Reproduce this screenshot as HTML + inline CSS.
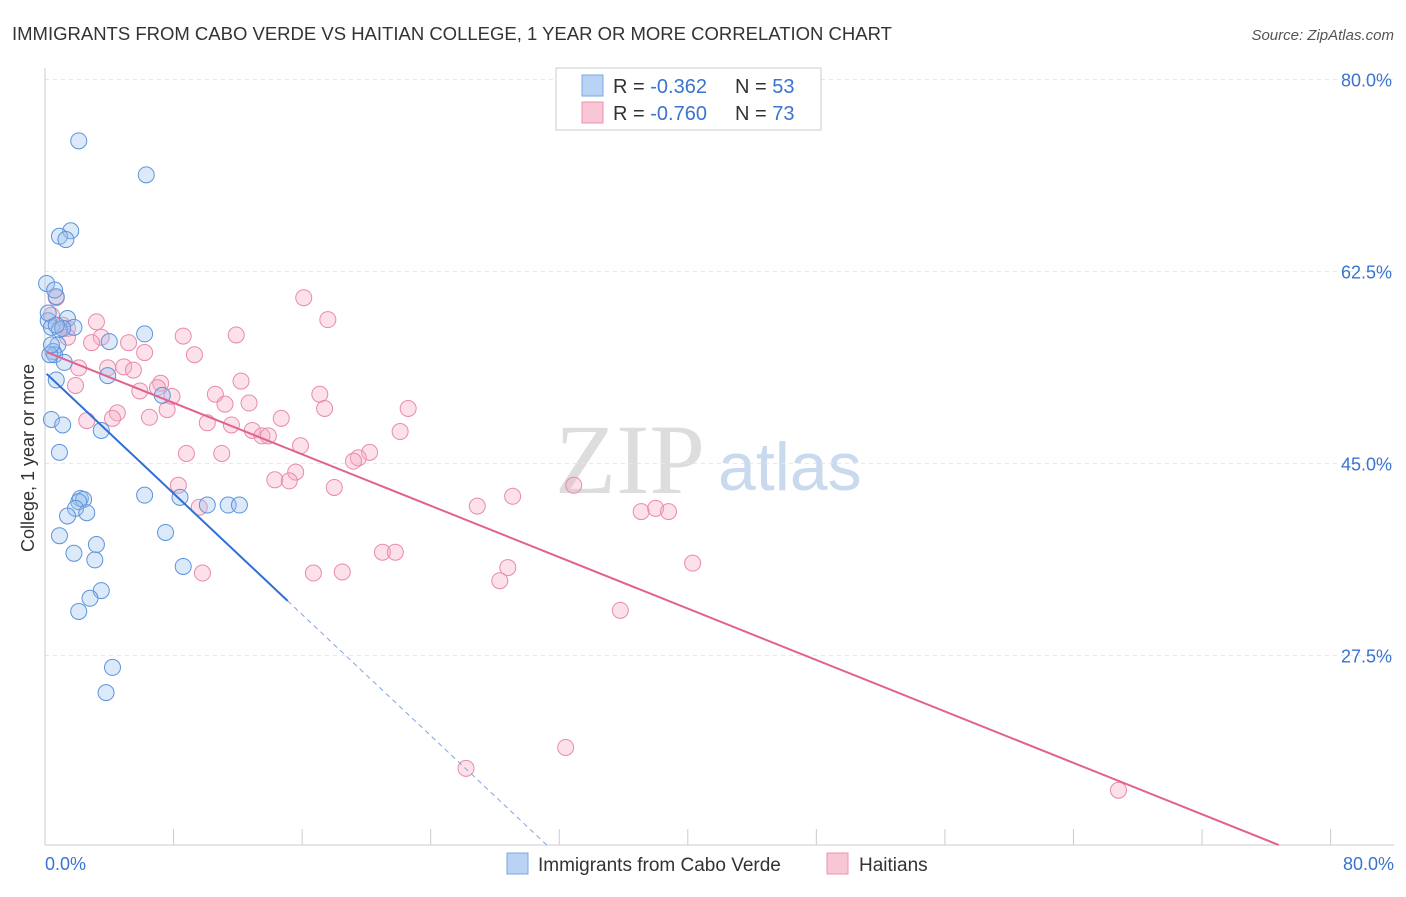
<!DOCTYPE html>
<html><head><meta charset="utf-8"><style>
body{margin:0;background:#fff;font-family:"Liberation Sans",sans-serif;}
svg text{font-family:"Liberation Sans",sans-serif;}
</style></head><body>
<svg id="c" width="1406" height="892" xmlns="http://www.w3.org/2000/svg">
<text x="12" y="40" font-size="18.5" fill="#333">IMMIGRANTS FROM CABO VERDE VS HAITIAN COLLEGE, 1 YEAR OR MORE CORRELATION CHART</text>
<text x="1394" y="40" font-size="15" fill="#555" font-style="italic" text-anchor="end">Source: ZipAtlas.com</text>
<text x="34" y="458" font-size="18" fill="#333" text-anchor="middle" transform="rotate(-90 34 458)">College, 1 year or more</text>
<text x="555" y="493" font-size="100" fill="#ddd" style="font-family:'Liberation Serif',serif">ZIP</text>
<text x="718" y="490" font-size="68" fill="#c9d9ee">atlas</text>
<g id="grid"></g><g id="marks"></g>
<g>
<rect x="556" y="68" width="265" height="62" fill="#fff" stroke="#ccc"/>
<rect x="582" y="75" width="21" height="21" fill="#b9d3f5" stroke="#7aa7e6"/>
<rect x="582" y="102" width="21" height="21" fill="#f9c6d6" stroke="#ee92b2"/>
<text x="613" y="93" font-size="20" fill="#333">R = <tspan fill="#3a73d0">-0.362</tspan><tspan x="735">N = </tspan><tspan fill="#3a73d0">53</tspan></text>
<text x="613" y="120" font-size="20" fill="#333">R = <tspan fill="#3a73d0">-0.760</tspan><tspan x="735">N = </tspan><tspan fill="#3a73d0">73</tspan></text>
</g>
<g>
<rect x="507" y="853" width="21" height="21" fill="#b9d3f5" stroke="#7aa7e6"/>
<text x="538" y="871" font-size="19" fill="#333">Immigrants from Cabo Verde</text>
<rect x="827" y="853" width="21" height="21" fill="#f9c6d6" stroke="#ee92b2"/>
<text x="859" y="871" font-size="19" fill="#333">Haitians</text>
</g>
<text x="45" y="870" font-size="18" fill="#3a73d0">0.0%</text>
<text x="1394" y="870" font-size="18" fill="#3a73d0" text-anchor="end">80.0%</text>
</svg>
<script>
const blueX=[2.1,6.3,1.6,0.9,1.3,0.1,0.7,1.4,0.2,1.8,0.4,0.9,6.2,4.0,0.8,0.5,0.6,1.2,3.9,0.7,7.3,0.4,1.1,3.5,0.9,6.2,8.4,2.2,2.4,2.1,1.9,2.6,1.4,10.1,11.4,12.1,7.5,0.9,3.2,1.8,3.1,8.6,3.5,2.8,2.1,4.2,3.8,0.3,0.6,0.2,0.4,1.1,0.7];
const blueY=[74.4,71.3,66.2,65.7,65.4,61.4,60.2,58.2,58.0,57.4,57.4,57.2,56.8,56.1,55.8,55.2,54.9,54.2,53.0,52.6,51.2,49.0,48.5,48.0,46.0,42.1,41.9,41.8,41.7,41.5,40.9,40.5,40.2,41.2,41.2,41.2,38.7,38.4,37.6,36.8,36.2,35.6,33.4,32.7,31.5,26.4,24.1,54.9,60.8,58.7,55.8,57.3,57.6];
const pinkX=[0.7,16.1,17.6,3.2,1.1,1.4,8.6,11.9,3.5,2.9,5.2,1.4,6.2,9.3,2.1,3.9,4.9,5.5,12.2,1.9,7.2,7.0,5.9,7.9,10.6,17.1,12.7,11.2,7.6,4.5,17.4,22.6,4.2,6.5,2.6,14.7,10.1,11.6,12.9,13.5,13.9,22.1,15.9,20.2,19.5,8.8,11.0,19.2,15.6,14.3,15.2,8.3,18.0,32.9,29.1,26.9,9.6,37.1,38.0,38.8,21.0,21.8,16.7,18.5,9.8,28.8,40.3,28.3,35.8,32.4,26.2,66.8,0.4];
const pinkY=[60.1,60.1,58.1,57.9,57.6,57.3,56.6,56.7,56.5,56.0,56.0,56.5,55.1,54.9,53.7,53.7,53.8,53.5,52.5,52.1,52.3,51.9,51.6,51.1,51.3,51.3,50.5,50.4,49.9,49.6,50.0,50.0,49.1,49.2,48.9,49.1,48.7,48.5,48.0,47.5,47.5,47.9,46.6,46.0,45.5,45.9,45.9,45.2,44.2,43.5,43.4,43.0,42.8,43.0,42.0,41.1,41.0,40.6,40.9,40.6,36.9,36.9,35.0,35.1,35.0,35.5,35.9,34.3,31.6,19.1,17.2,15.2,58.5];
const yTicks=[80,62.5,45,27.5];
const xTicks=[0,8,16,24,32,40,48,56,64,72,80];
const blueTrend=[53.3,-1.38];
const pinkTrend=[55.2,-0.586];
const NS="http://www.w3.org/2000/svg";
const sx=v=>45+v*16.07, sy=v=>957-v*10.97;
const grid=document.getElementById('grid'), marks=document.getElementById('marks');
function mk(tag,attrs,parent){const e=document.createElementNS(NS,tag);for(const k in attrs)e.setAttribute(k,attrs[k]);parent.appendChild(e);return e;}
yTicks.forEach(t=>{
  const l=mk('line',{x1:45,x2:1394,y1:sy(t),y2:sy(t),stroke:'#e6e6e6','stroke-dasharray':'4,4'},grid);
  
  
  const tx=mk('text',{x:1392,y:sy(t)+7,'font-size':18,fill:'#3a73d0','text-anchor':'end'},grid);
  tx.textContent=t.toFixed(1)+'%';
  
  
});
const ax=mk('line',{x1:45,x2:45,y1:68,y2:845,stroke:'#ccc'},grid);


const bx=mk('line',{x1:45,x2:1394,y1:845,y2:845,stroke:'#ccc'},grid);


xTicks.forEach(t=>{
  const l=mk('line',{x1:sx(t),x2:sx(t),y1:829,y2:845,stroke:'#ccc'},grid);
  
  
});
function pts(X,Y,fill,stroke,name){X.forEach((x,i)=>{
  const c=mk('circle',{cx:sx(x),cy:sy(Y[i]),r:8,fill:fill,'fill-opacity':0.35,stroke:stroke,'stroke-width':1},marks);
  
  
});}
pts(pinkX,pinkY,'#f5a9c2','#e98aab','haitian-point');
pts(blueX,blueY,'#9cc0ee','#5c93dc','cabo-verde-point');
const ymin=(957-845)/10.97;
const bxEnd=(ymin-blueTrend[0])/blueTrend[1];
const bl=mk('line',{x1:sx(0.1),y1:sy(blueTrend[0]+blueTrend[1]*0.1),x2:sx(15.1),y2:sy(blueTrend[0]+blueTrend[1]*15.1),stroke:'#2f6fd6','stroke-width':2},marks);


const bd=mk('line',{x1:sx(15.1),y1:sy(blueTrend[0]+blueTrend[1]*15.1),x2:sx(bxEnd),y2:sy(ymin),stroke:'#7fa5e0','stroke-width':1,'stroke-dasharray':'5,4'},marks);


const pxEnd=(ymin-pinkTrend[0])/pinkTrend[1];
const pl=mk('line',{x1:sx(0.1),y1:sy(pinkTrend[0]+pinkTrend[1]*0.1),x2:sx(pxEnd),y2:sy(ymin),stroke:'#e0628f','stroke-width':2},marks);


</script>
</body></html>
